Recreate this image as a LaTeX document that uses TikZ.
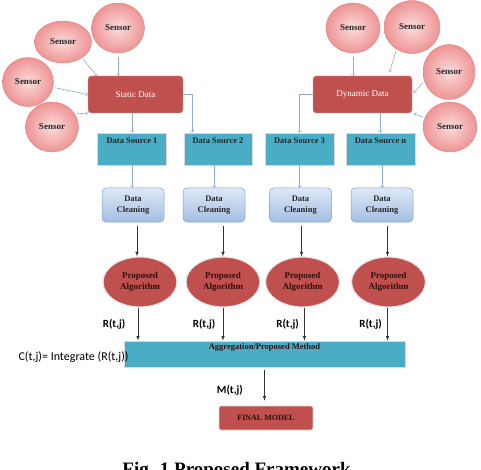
\documentclass[tikz,border=0pt]{standalone}
\usepackage{fontspec}
\setmainfont{Liberation Serif}
\newfontfamily\califont{Carlito}
\usetikzlibrary{shapes,arrows}
\definecolor{sensorin}{HTML}{FBDCDC}
\definecolor{sensorout}{HTML}{EE9494}
\definecolor{sensorline}{HTML}{E27E7E}
\definecolor{datared}{HTML}{C0504D}
\definecolor{sourceblue}{HTML}{4BACC6}
\definecolor{cleantop}{HTML}{DDE8F6}
\definecolor{cleanbot}{HTML}{A3BEE4}
\definecolor{cleanline}{HTML}{7F9FD0}
\definecolor{linkblue}{HTML}{8FAADC}
\definecolor{darktext}{HTML}{2E1010}
\newcommand{\sensornode}[4]{
  \node[sensor, minimum width=#3, minimum height=#4] (#1) at (#2) {Sensor};
}
\tikzset{
  sensor/.style={ellipse, shade, inner color=sensorin, outer color=sensorout,
    draw=sensorline, line width=0.4pt, inner sep=0pt,
    font=\bfseries\fontsize{9}{10}\selectfont, text=black!85},
  datanode/.style={rounded corners=3pt, fill=datared, draw=datared!50!white,
    text=white, minimum height=37, font=\fontsize{9}{10}\selectfont},
  srcbox/.style={fill=sourceblue, draw=black!15, line width=0.8pt,
    minimum width=69, minimum height=32},
  srclabel/.style={anchor=north, inner sep=5pt, text=black!85,
    font=\bfseries\fontsize{8.5}{9}\selectfont},
  cleanbox/.style={rounded corners=4pt, top color=cleantop, bottom color=cleanbot,
    draw=cleanline, line width=0.5pt, minimum width=62, minimum height=34,
    align=center, text=black!85, font=\bfseries\fontsize{8.5}{11}\selectfont},
  algnode/.style={ellipse, fill=datared, draw=black!10, line width=1.2pt,
    minimum width=74, minimum height=50, inner sep=0pt, align=center, text=darktext,
    font=\bfseries\fontsize{9}{10.5}\selectfont},
  aggbox/.style={fill=sourceblue, draw=black!15, line width=0.8pt,
    minimum width=281, minimum height=26},
  agglabel/.style={anchor=north, inner sep=3pt, text=darktext,
    font=\bfseries\fontsize{8.5}{9}\selectfont},
  finalbox/.style={rounded corners=2pt, fill=datared, draw=black!15, line width=0.8pt,
    minimum width=94, minimum height=24, text=darktext,
    font=\bfseries\fontsize{8}{9}\selectfont},
  link/.style={->, draw=linkblue, line width=0.6pt},
  flow/.style={-latex, draw=black!80, line width=0.6pt},
  rlab/.style={font=\califont\bfseries\fontsize{11}{12}\selectfont}
}

\begin{document}
\begin{tikzpicture}[x=1pt,y=-1pt]
  \useasboundingbox (0,0) rectangle (481,470);
  \clip (0,0) rectangle (481,470);
  \sensornode{sA}{63,42}{57}{42}
  \sensornode{sB}{118,28}{53}{50}
  \sensornode{sC}{28,82}{51}{49}
  \sensornode{sD}{52,127}{53}{50}
  \sensornode{sE}{353,28}{54}{50}
  \sensornode{sF}{412,27}{56}{53}
  \sensornode{sG}{449,72}{52}{55}
  \sensornode{sH}{450,127}{54}{50}
  \node[datanode, minimum width=95] (static) at (135.5,94.5) {Static Data};
  \node[datanode, minimum width=99] (dynamic) at (362.5,94.5) {Dynamic Data};
  \node[srcbox, label={[srclabel]north:Data Source 1}] (ds1) at (132,149) {};
  \node[srcbox, minimum width=68, label={[srclabel]north:Data Source 2}] (ds2) at (218,149) {};
  \node[srcbox, label={[srclabel]north:Data Source 3}] (ds3) at (299.5,149) {};
  \node[srcbox, label={[srclabel]north:Data Source n}] (dsn) at (380.5,149) {};
  \node[cleanbox] (dc1) at (133,205) {Data\\Cleaning};
  \node[cleanbox] (dc2) at (214,205) {Data\\Cleaning};
  \node[cleanbox] (dc3) at (300.5,205) {Data\\Cleaning};
  \node[cleanbox] (dc4) at (382,205) {Data\\Cleaning};
  \node[algnode] (alg1) at (140,282) {Proposed\\Algorithm};
  \node[algnode] (alg2) at (223,282) {Proposed\\Algorithm};
  \node[algnode] (alg3) at (302.5,282) {Proposed\\Algorithm};
  \node[algnode] (alg4) at (388.5,282) {Proposed\\Algorithm};
  \node[aggbox, label={[agglabel]north:Aggregation/Proposed Method}] (agg) at (264.5,354) {};
  \node[finalbox] (final) at (266,418) {FINAL MODEL};
  \node[anchor=west, font=\califont\fontsize{12}{13}\selectfont] (integ) at (15,357)
    {C(t,j)= Integrate (R(t,j))};
  \node[anchor=base, font=\bfseries\fontsize{19}{22}\selectfont] (caption) at (236.5,475)
    {Fig. 1 Proposed Framework};

  \draw[link, shorten <=2pt] (sA.-40) -- ([xshift=9]static.north west);
  \draw[link, shorten <=4pt] (sB.south) -- (sB.south |- static.north);
  \draw[link, shorten <=2pt] (sC.-12) -- (static.west);
  \draw[link, shorten <=2pt] (sD.30) -- (static.south west);
  \draw[link, shorten <=4pt] (sE.south) -- (sE.south |- dynamic.north);
  \draw[link, shorten <=2pt, shorten >=4pt] (sF.235) -- ([xshift=26]dynamic.north);
  \draw[link, shorten <=2pt, shorten >=2pt] (sG.200) -- (dynamic.east);
  \draw[link, shorten <=2pt, shorten >=2pt] (sH.160) -- (dynamic.south east);
  \draw[link] (static.south -| ds1.north) -- (ds1.north);
  \draw[link] (static.east) -| ([xshift=-26]ds2.north);
  \draw[link] (dynamic.west) -| (ds3.north);
  \draw[link] (dynamic.south -| dsn.north) -- (dsn.north);
  \draw[link] (ds1.south) -- (ds1.south |- dc1.north);
  \draw[link] (dc2.north |- ds2.south) -- (dc2.north);
  \draw[link] (ds3.south) -- (ds3.south |- dc3.north);
  \draw[link] (dc4.north |- dsn.south) -- (dc4.north);
  \draw[flow, shorten <=4pt] ([xshift=-3]alg1.north |- dc1.south) -- ([xshift=-3]alg1.north);
  \draw[flow, shorten <=4pt] (alg2.north |- dc2.south) -- (alg2.north);
  \draw[flow, shorten <=4pt] ([xshift=-1]alg3.north |- dc3.south) -- ([xshift=-1]alg3.north);
  \draw[flow, shorten <=4pt] ([xshift=-1]alg4.north |- dc4.south) -- ([xshift=-1]alg4.north);
  \draw[flow] ([xshift=-2]alg1.south) -- node[rlab, left=9pt] (r1) {R(t,j)} ([xshift=-2]alg1.south |- agg.north);
  \draw[flow] (alg2.south) -- node[rlab, left=4pt] (r2) {R(t,j)} (alg2.south |- agg.north);
  \draw[flow] ([xshift=2]alg3.south) -- node[rlab, left=2pt] (r3) {R(t,j)} ([xshift=2]alg3.south |- agg.north);
  \draw[flow] ([xshift=-1]alg4.south) -- node[rlab, left=2pt] (r4) {R(t,j)} ([xshift=-1]alg4.south |- agg.north);
  \draw[flow, shorten <=3pt, shorten >=5pt] (agg.south) -- node[rlab, left=18pt, pos=0.6] (m) {M(t,j)} (agg.south |- final.north);
\end{tikzpicture}
\end{document}
